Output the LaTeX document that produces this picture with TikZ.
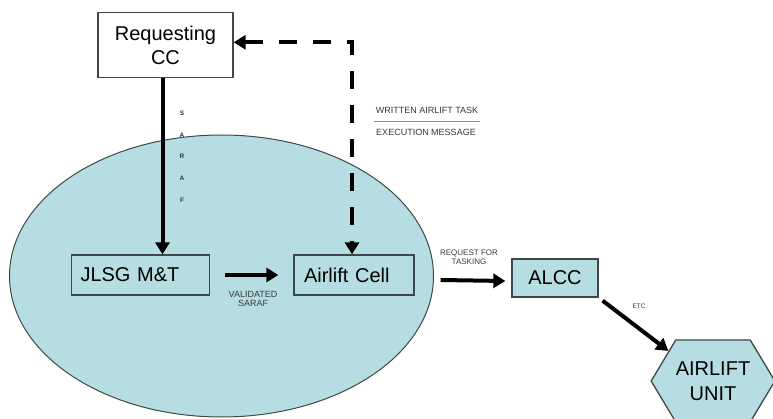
\documentclass[tikz,border=0pt]{standalone}
\usepackage{fontspec}
\setmainfont{Liberation Sans}
\usetikzlibrary{arrows.meta,shapes.symbols}
\definecolor{cellfill}{RGB}{182,222,226}
\definecolor{edge}{RGB}{62,72,74}
\begin{document}
\begin{tikzpicture}[x=1pt,y=-1pt,
  box/.style={draw=edge, line width=1.3pt, fill=cellfill, minimum height=40pt,
    inner ysep=0pt, font=\fontsize{20}{24}\selectfont},
  flow/.style={line width=4pt, -{Triangle[length=12pt,width=14pt]}},
  flowdash/.style={line width=4pt, dash pattern=on 18pt off 16pt,
    {Triangle[length=12pt,width=14pt]}-{Triangle[length=12pt,width=14pt]}},
  tiny/.style={font=\fontsize{9}{9}\selectfont, inner sep=0pt, align=center, text=black!78}
]
\useasboundingbox (0,0) rectangle (773,419);
\fill[white] (0,0) rectangle (773,419);

% the JLSG area
\draw[edge, fill=cellfill, line width=1pt] (221.5,276) ellipse [x radius=212, y radius=141];

% nodes
\node[draw=edge, line width=1.3pt, fill=white, minimum width=135pt, minimum height=65pt,
  align=center, font=\fontsize{20}{24}\selectfont] (req) at (165.5,45) {Requesting\\CC};
\node[box, text width=120pt, inner xsep=9pt, align=left] (jlsg) at (140.5,275) {JLSG M\&T};
\node[box, text width=100pt, inner xsep=10pt, align=left] (cell) at (354,275) {Airlift Cell};
\node[box, minimum width=86pt, minimum height=38pt] (alcc) at (555,278) {ALCC};
\node[draw=edge, line width=1.3pt, fill=cellfill, shape=signal, signal to=west and east,
  signal pointer angle=118, minimum width=120pt, minimum height=82pt, inner sep=0pt,
  align=center, font=\fontsize{20}{25}\selectfont] (unit) at (713,381) {AIRLIFT\\UNIT};

% connectors
\draw[flow] ([xshift=-3pt]req.south) -- ([xshift=-3pt]req.south |- jlsg.north);
\draw[flowdash] ([yshift=2.7pt]req.east) -| ([xshift=-2pt]cell.north);
\draw[flow] ([xshift=15pt]jlsg.east) -- ([xshift=-15pt]cell.west);
\draw[flow] ([xshift=26pt,yshift=-5pt]cell.east) -- ([xshift=-6pt,yshift=-3pt]alcc.west);
\draw[flow] ([xshift=4pt,yshift=-3pt]alcc.south east) -- (unit.146);

% labels
\node[tiny, font=\fontsize{6.5}{8}\selectfont\bfseries] (saraf) at (182,156.5)
  {S\\[13.7pt]A\\[13.7pt]R\\[13.7pt]A\\[13.7pt]F};
\node[tiny] (written) at (427,110) {WRITTEN AIRLIFT TASK};
\node[tiny] (execution) at (426,132) {EXECUTION MESSAGE};
\coordinate (sepl) at (374,121);
\coordinate (sepr) at (480,121);
\draw[black!45, line width=0.6pt] (sepl) -- (sepr);
\node[tiny, font=\fontsize{9}{8.5}\selectfont] (validated) at (253,299) {VALIDATED\\SARAF};
\node[tiny, font=\fontsize{8}{8.5}\selectfont] (rft) at (469,257) {REQUEST FOR\\TASKING};
\node[tiny, font=\fontsize{6.5}{8}\selectfont] (etc) at (639,306) {ETC};
\end{tikzpicture}
\end{document}
